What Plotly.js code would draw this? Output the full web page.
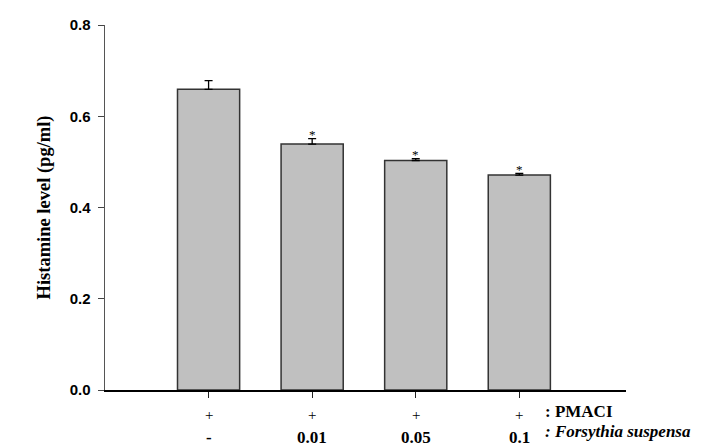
<!DOCTYPE html>
<html><head><meta charset="utf-8">
<script src="https://cdn.plot.ly/plotly-3.0.1.min.js"></script>
<style>html,body{margin:0;padding:0;background:#fff}#chart{width:721px;height:446px}</style>
</head><body><div id="chart"></div>
<script>
const categories = [0, 1, 2, 3];
const histamine = [0.659, 0.539, 0.503, 0.471];
const errors = [0.019, 0.012, 0.004, 0.004];
const pmaciRow = ["+", "+", "+", "+"];
const forsythiaRow = ["-", "0.01", "0.05", "0.1"];
const significance = ["", "*", "*", "*"];
const yTicks = [0, 0.2, 0.4, 0.6, 0.8];
const yTickText = ["0.0", "0.2", "0.4", "0.6", "0.8"];

const serif = 'Liberation Serif, Times New Roman, serif';
const annotations = [];
categories.forEach((c, i) => {
  annotations.push({x: c, y: -0.068, xref: 'x', yref: 'paper', text: pmaciRow[i], showarrow: false,
    font: {family: serif, size: 15, color: '#000'}, yanchor: 'middle'});
  annotations.push({x: c, y: -0.131, xref: 'x', yref: 'paper', text: '<b>' + forsythiaRow[i] + '</b>', showarrow: false,
    font: {family: serif, size: 17, color: '#000'}, yanchor: 'middle'});
  if (significance[i]) {
    annotations.push({x: c, y: histamine[i] + errors[i], xref: 'x', yref: 'y', text: significance[i], showarrow: false,
      yshift: 4, font: {family: serif, size: 13, color: '#000'}, yanchor: 'middle'});
  }
});
annotations.push({x: 3.23, y: -0.058, xref: 'x', yref: 'paper', text: '<b>: PMACI</b>', showarrow: false, xanchor: 'left',
  font: {family: serif, size: 17, color: '#000'}, yanchor: 'middle'});
annotations.push({x: 3.23, y: -0.115, xref: 'x', yref: 'paper', text: '<b><i>: Forsythia suspensa</i></b>', showarrow: false, xanchor: 'left',
  font: {family: serif, size: 17, color: '#000'}, yanchor: 'middle'});

const trace = {
  type: 'bar', x: categories, y: histamine, width: 0.6,
  marker: {color: '#c0c0c0', line: {color: '#333', width: 1.5}},
  error_y: {type: 'data', array: errors, symmetric: false, arrayminus: [0,0,0,0], color: '#000', thickness: 1.3, width: 4},
  hoverinfo: 'none'
};

const layout = {
  width: 721, height: 446,
  margin: {l: 105, r: 95, t: 25, b: 56},
  paper_bgcolor: '#fff', plot_bgcolor: '#fff',
  showlegend: false,
  xaxis: {range: [-1, 4.03], tickvals: categories, ticktext: categories.map(() => ''), ticks: 'outside', ticklen: 6,
    tickcolor: '#222', showline: true, linecolor: '#000', linewidth: 1.5, showgrid: false, zeroline: false, fixedrange: true},
  yaxis: {range: [0, 0.8], tickvals: yTicks, ticktext: yTickText, ticks: 'outside', ticklen: 6, tickcolor: '#444',
    showline: true, linecolor: '#555', linewidth: 1.5, showgrid: false, zeroline: false, ticklabelstandoff: 4,
    tickfont: {family: 'Liberation Sans, Arial, sans-serif', size: 15, color: '#000', weight: 'bold'},
    title: {text: '<b>Histamine level (pg/ml)</b>', standoff: 14,
      font: {family: serif, size: 18.5, color: '#000'}}},
  annotations: annotations
};

Plotly.newPlot('chart', [trace], layout, {displayModeBar: false, staticPlot: true});
</script></body></html>
